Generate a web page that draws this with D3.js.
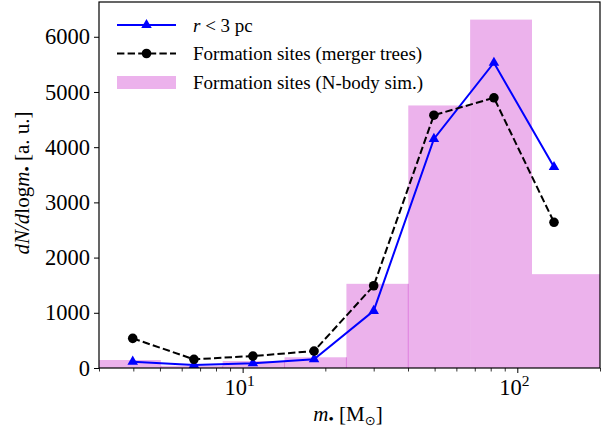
<!DOCTYPE html>
<html>
<head>
<meta charset="utf-8">
<script src="https://cdn.jsdelivr.net/npm/d3@7/dist/d3.min.js"></script>
<style>
  html, body { margin: 0; padding: 0; background: #fff; }
  svg { display: block; }
  text { font-family: "Liberation Serif", "DejaVu Serif", serif; fill: #000; }
</style>
</head>
<body>
<svg id="chart" width="612" height="432"></svg>
<script>
// Mass bin edges of the N-body histogram (log-spaced, 3 to 200 Msun)
const histEdges = [3, 5.04, 8.46, 14.21, 23.87, 40.09, 67.33, 113.1, 200];
const histValues = [145, 40, 127, 194, 1525, 4756, 6311, 1700];

// Point masses of the two line series
const pointMasses = [3.98, 6.65, 10.9, 18.2, 30.0, 49.7, 82.2, 136];
// r < 3 pc
const innerValues = [115, 55, 85, 160, 1035, 4150, 5530, 3640];
// Formation sites (merger trees)
const mergerValues = [537, 157, 217, 307, 1490, 4580, 4895, 2640];

const yTicks = [0, 1000, 2000, 3000, 4000, 5000, 6000];
const xMajorTicks = [10, 100];
const xMinorTicks = [3, 4, 5, 6, 7, 8, 9, 20, 30, 40, 50, 60, 70, 80, 90, 200];

const margin = { left: 99, right: 12, top: 2, bottom: 64 };
const W = 612, H = 432;
const svg = d3.select("#chart");
const serif = "'Liberation Serif', 'DejaVu Serif', serif";

const x = d3.scaleLog().domain([3, 200]).range([margin.left, W - margin.right]);
const y = d3.scaleLinear().domain([0, 6630]).range([H - margin.bottom, margin.top]);

const barColor = "rgb(191,0,191)";
const barAlpha = 0.3;

// Histogram bars
const bars = histValues.map((v, i) => ({ x0: histEdges[i], x1: histEdges[i + 1], v }));
svg.append("g").selectAll("rect").data(bars).join("rect")
  .attr("x", d => x(d.x0))
  .attr("width", d => x(d.x1) - x(d.x0))
  .attr("y", d => y(d.v))
  .attr("height", d => y(0) - y(d.v))
  .attr("fill", barColor)
  .attr("fill-opacity", barAlpha);

// Thin seams along the shared edges of the lower bars
svg.append("g").selectAll("line").data(bars.slice(1, 6)).join("line")
  .attr("x1", d => x(d.x0)).attr("x2", d => x(d.x0))
  .attr("y1", y(0))
  .attr("y2", (d, i) => y(Math.min(d.v, bars[i].v)))
  .attr("stroke", barColor).attr("stroke-opacity", 0.3).attr("stroke-width", 1);

// Line series
const line = d3.line().x(d => x(d[0])).y(d => y(d[1]));
const innerPts = pointMasses.map((m, i) => [m, innerValues[i]]);
const mergerPts = pointMasses.map((m, i) => [m, mergerValues[i]]);

const tri = d3.symbol().type(d3.symbolTriangle).size(48);
const circ = d3.symbol().type(d3.symbolCircle).size(72);

svg.append("path").datum(innerPts).attr("d", line)
  .attr("fill", "none").attr("stroke", "#0000ff").attr("stroke-width", 2);
svg.append("g").selectAll("path").data(innerPts).join("path")
  .attr("d", tri).attr("transform", d => `translate(${x(d[0])},${y(d[1])})`)
  .attr("fill", "#0000ff");

svg.append("path").datum(mergerPts).attr("d", line)
  .attr("fill", "none").attr("stroke", "#000").attr("stroke-width", 2)
  .attr("stroke-dasharray", "7.4,3.2");
svg.append("g").selectAll("path").data(mergerPts).join("path")
  .attr("d", circ).attr("transform", d => `translate(${x(d[0])},${y(d[1])})`)
  .attr("fill", "#000");

// Axes frame
svg.append("rect")
  .attr("x", margin.left).attr("y", margin.top)
  .attr("width", W - margin.right - margin.left)
  .attr("height", H - margin.bottom - margin.top)
  .attr("fill", "none").attr("stroke", "#000").attr("stroke-width", 1.2);

// Y axis
const yAxis = d3.axisLeft(y).tickValues(yTicks).tickSize(5).tickPadding(4).tickFormat(d3.format("d"));
const gy = svg.append("g").attr("transform", `translate(${margin.left},0)`).call(yAxis);
gy.attr("font-family", null).attr("font-size", null);
gy.select(".domain").remove();
gy.selectAll("text").style("font-size", "22.5px").style("font-family", serif);
gy.selectAll("line").attr("stroke-width", 1);

// X axis: major ticks with powers-of-ten labels, minor ticks unlabeled
const xAxisMajor = d3.axisBottom(x).tickValues(xMajorTicks).tickSize(5).tickFormat("");
const gx = svg.append("g").attr("transform", `translate(0,${y(0)})`).call(xAxisMajor);
gx.select(".domain").remove();
gx.selectAll("line").attr("stroke-width", 1);
const xAxisMinor = d3.axisBottom(x).tickValues(xMinorTicks).tickSize(3.5).tickFormat("");
const gxm = svg.append("g").attr("transform", `translate(0,${y(0)})`).call(xAxisMinor);
gxm.select(".domain").remove();
gxm.selectAll("line").attr("stroke-width", 0.8);

const xl = svg.append("g").selectAll("text").data(xMajorTicks).join("text")
  .attr("x", d => x(d) - 3).attr("y", y(0) + 27)
  .attr("text-anchor", "middle").style("font-size", "22.5px").style("font-family", serif);
xl.append("tspan").text("10");
xl.append("tspan").attr("dy", -9).style("font-size", "15.5px").text(d => Math.round(Math.log10(d)));

// Axis labels
const xlab = svg.append("text").attr("x", 348).attr("y", 421)
  .attr("text-anchor", "middle").style("font-size", "21px");
xlab.append("tspan").style("font-style", "italic").text("m");
xlab.append("tspan").attr("dy", 3).style("font-size", "15px").text("•");
xlab.append("tspan").attr("dy", -3).text(" [M");
xlab.append("tspan").attr("dy", 4).style("font-size", "13px").style("font-family", "'DejaVu Sans'").text("⊙");
xlab.append("tspan").attr("dy", -4).text("]");

const ylab = svg.append("text")
  .attr("transform", `translate(29,${183}) rotate(-90)`)
  .attr("text-anchor", "middle").style("font-size", "21px");
ylab.append("tspan").style("font-style", "italic").text("dN/d");
ylab.append("tspan").text("log");
ylab.append("tspan").style("font-style", "italic").text("m");
ylab.append("tspan").attr("dy", 3).style("font-size", "15px").text("•");
ylab.append("tspan").attr("dy", -3).text(" [a. u.]");

// Legend
const lg = svg.append("g");
const lx0 = 117, lx1 = 176, ltx = 193;
const rows = [25, 53.5, 82.5];
lg.append("line").attr("x1", lx0).attr("x2", lx1).attr("y1", rows[0]).attr("y2", rows[0])
  .attr("stroke", "#0000ff").attr("stroke-width", 2);
lg.append("path").attr("d", tri).attr("transform", `translate(${(lx0 + lx1) / 2},${rows[0]})`).attr("fill", "#0000ff");
lg.append("line").attr("x1", lx0).attr("x2", lx1).attr("y1", rows[1]).attr("y2", rows[1])
  .attr("stroke", "#000").attr("stroke-width", 2).attr("stroke-dasharray", "7.4,3.2");
lg.append("path").attr("d", circ).attr("transform", `translate(${(lx0 + lx1) / 2},${rows[1]})`).attr("fill", "#000");
lg.append("rect").attr("x", lx0).attr("y", rows[2] - 6.5).attr("width", lx1 - lx0).attr("height", 13)
  .attr("fill", barColor).attr("fill-opacity", barAlpha);

const t0 = lg.append("text").attr("x", ltx).attr("y", rows[0]).attr("dy", "0.35em").style("font-size", "19px");
t0.append("tspan").style("font-style", "italic").text("r");
t0.append("tspan").text(" < 3 pc");
lg.append("text").attr("x", ltx).attr("y", rows[1]).attr("dy", "0.35em").style("font-size", "19px")
  .text("Formation sites (merger trees)");
lg.append("text").attr("x", ltx).attr("y", rows[2]).attr("dy", "0.35em").style("font-size", "19px")
  .text("Formation sites (N-body sim.)");
</script>
</body>
</html>
